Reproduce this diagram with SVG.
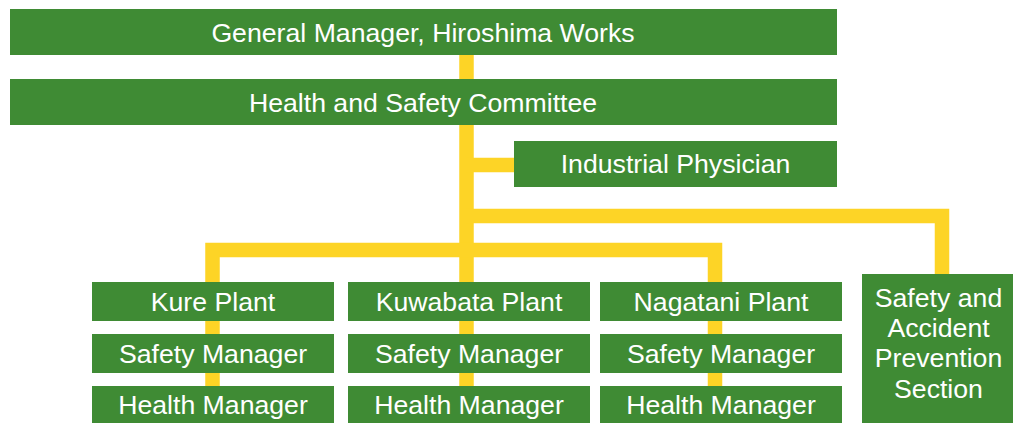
<svg xmlns="http://www.w3.org/2000/svg" width="1013" height="423" viewBox="0 0 1013 423">
<style>
.box{fill:#3f8b34}
.t{font-family:"Liberation Sans",Arial,sans-serif;font-size:26.67px;fill:#ffffff;text-anchor:middle}
.c{fill:none;stroke:#fdd426;stroke-width:14.5;stroke-linejoin:miter;stroke-linecap:butt}
</style>
<rect width="1013" height="423" fill="#ffffff"/>
<g id="connectors">
<path class="c" d="M466.5 55 V423"/>
<path class="c" d="M466.5 165 H514"/>
<path class="c" d="M466.5 216 H942 V274"/>
<path class="c" d="M212.5 423 V250 H715 V423"/>
</g>
<g id="general-manager"><rect class="box" x="10" y="9" width="827" height="46"/><text class="t" x="423" y="41.5">General Manager, Hiroshima Works</text></g>
<g id="committee"><rect class="box" x="10" y="79" width="827" height="46"/><text class="t" x="423" y="111.5">Health and Safety Committee</text></g>
<g id="physician"><rect class="box" x="514" y="141" width="323" height="46"/><text class="t" x="675.5" y="173.3">Industrial Physician</text></g>
<g id="kure-plant"><rect class="box" x="92" y="282" width="242" height="39"/><text class="t" x="213" y="311">Kure Plant</text></g>
<g id="kure-safety"><rect class="box" x="92" y="334" width="242" height="39"/><text class="t" x="213" y="362.7">Safety Manager</text></g>
<g id="kure-health"><rect class="box" x="92" y="386" width="242" height="39"/><text class="t" x="213" y="414">Health Manager</text></g>
<g id="kuwabata-plant"><rect class="box" x="348" y="282" width="242" height="39"/><text class="t" x="469" y="311">Kuwabata Plant</text></g>
<g id="kuwabata-safety"><rect class="box" x="348" y="334" width="242" height="39"/><text class="t" x="469" y="362.7">Safety Manager</text></g>
<g id="kuwabata-health"><rect class="box" x="348" y="386" width="242" height="39"/><text class="t" x="469" y="414">Health Manager</text></g>
<g id="nagatani-plant"><rect class="box" x="600" y="282" width="242" height="39"/><text class="t" x="721" y="311">Nagatani Plant</text></g>
<g id="nagatani-safety"><rect class="box" x="600" y="334" width="242" height="39"/><text class="t" x="721" y="362.7">Safety Manager</text></g>
<g id="nagatani-health"><rect class="box" x="600" y="386" width="242" height="39"/><text class="t" x="721" y="414">Health Manager</text></g>
<g id="safety-section"><rect class="box" x="862" y="274" width="153" height="151"/>
<text class="t" x="938.5" y="306.7">Safety and</text>
<text class="t" x="938.5" y="337.3">Accident</text>
<text class="t" x="938.5" y="367.3">Prevention</text>
<text class="t" x="938.5" y="398.3">Section</text></g>
</svg>
